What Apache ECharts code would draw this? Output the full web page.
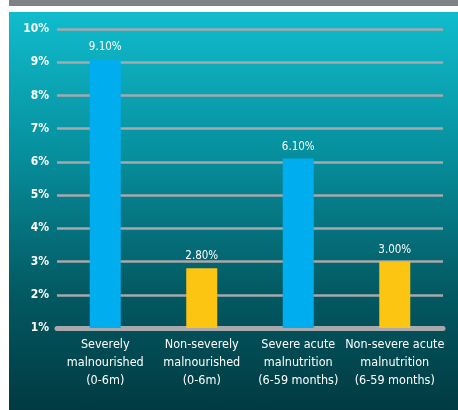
<!DOCTYPE html>
<html>
<head>
<meta charset="utf-8">
<script src="https://cdn.jsdelivr.net/npm/echarts@6/dist/echarts.min.js"></script>
<style>
  body { margin: 0; background: #fff; width: 458px; height: 410px; position: relative; overflow: hidden; }
  .topbar { position: absolute; left: 9px; top: 0; width: 449px; height: 6px; background: #808285; }
  #chart { position: absolute; left: 9px; top: 12px; width: 449px; height: 398px; }
</style>
</head>
<body>
<div class="topbar"></div>
<div id="chart"></div>
<script>
// data
var categories = [
  'Severely\nmalnourished\n(0-6m)',
  'Non-severely\nmalnourished\n(0-6m)',
  'Severe acute\nmalnutrition\n(6-59 months)',
  'Non-severe acute\nmalnutrition\n(6-59 months)'
]
var values = [9.1, 2.8, 6.1, 3.0]
var barColors = ['#00aeef', '#fcc512', '#00aeef', '#fcc512']

var font = '"DejaVu Sans Condensed", "Liberation Sans Narrow", sans-serif'

var mychart = echarts.init(document.getElementById('chart'))
mychart.setOption({
  backgroundColor: {
    type: 'linear', x: 0, y: 0, x2: 0, y2: 1,
    colorStops: [
      { offset: 0, color: '#10bccd' },
      { offset: 0.35, color: '#07909e' },
      { offset: 0.7, color: '#035a63' },
      { offset: 1, color: '#013a42' }
    ]
  },
  grid: { left: 48, right: 15, top: 17, bottom: 82 },
  xAxis: {
    type: 'category',
    data: categories,
    axisLine: { show: true, lineStyle: { color: '#a7a9ac', width: 5 } },
    axisTick: { show: false },
    axisLabel: {
      color: '#fff',
      fontFamily: font,
      fontSize: 12.5,
      lineHeight: 18,
      margin: 8,
      interval: 0
    }
  },
  yAxis: {
    type: 'value',
    min: 1,
    max: 10,
    interval: 1,
    axisLine: { show: false },
    axisTick: { show: false },
    axisLabel: {
      formatter: '{value}%',
      color: '#fff',
      fontFamily: font,
      fontWeight: 'bold',
      fontSize: 12,
      margin: 8
    },
    splitLine: { lineStyle: { color: '#a7a9ac', width: 2.5 } }
  },
  series: [
    {
      type: 'bar',
      barWidth: 31,
      data: values.map(function (v, i) {
        return { value: v, itemStyle: { color: barColors[i] } }
      }),
      label: {
        show: true,
        position: 'top',
        distance: 6,
        color: '#fff',
        fontFamily: font,
        fontSize: 11.5,
        formatter: function (p) { return p.value.toFixed(2) + '%' }
      }
    }
  ]
})
</script>
</body>
</html>
